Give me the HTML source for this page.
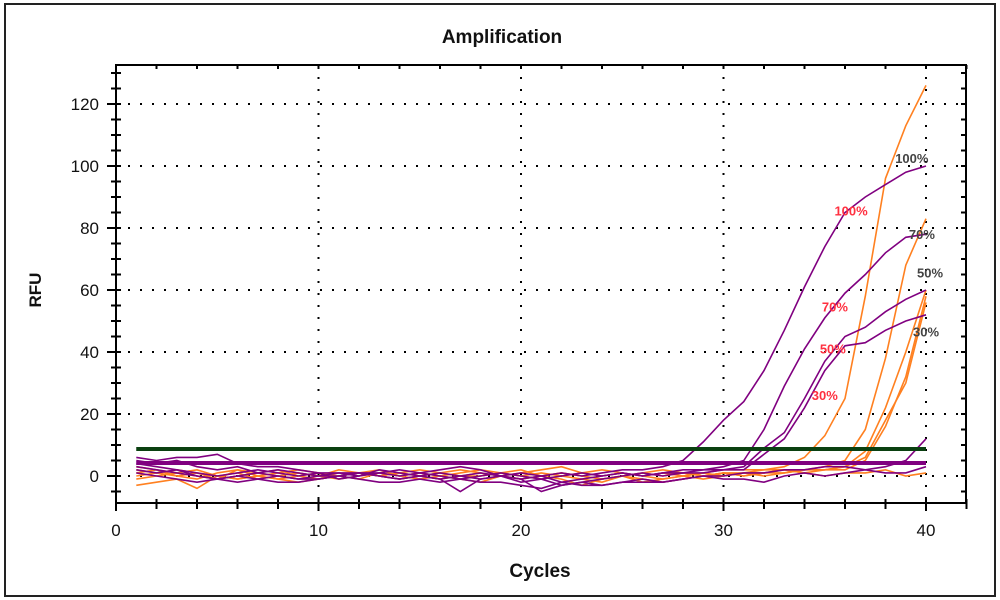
<!DOCTYPE html>
<html><head><meta charset="utf-8"><style>
html,body{margin:0;padding:0;background:#fff;}
svg{display:block;font-family:"Liberation Sans",sans-serif;}
</style></head><body>
<svg id="c" width="1000" height="600">
<rect x="5" y="4" width="990" height="592" fill="#fff" stroke="#222" stroke-width="2"/>
<text x="502" y="43" text-anchor="middle" font-size="19" font-weight="bold" fill="#111">Amplification</text>
<text x="540" y="577" text-anchor="middle" font-size="19" font-weight="bold" fill="#111">Cycles</text>
<text x="41" y="290" text-anchor="middle" font-size="17" font-weight="bold" fill="#111" transform="rotate(-90 41 290)">RFU</text>
<g id="grid"></g><g id="series"></g><g id="axes"></g><g id="labels"></g>
</svg>
<script>
const xTicks=[0,10,20,30,40];
const yTicks=[0,20,40,60,80,100,120];
const cycles=[1,2,3,4,5,6,7,8,9,10,11,12,13,14,15,16,17,18,19,20,21,22,23,24,25,26,27,28,29,30,31,32,33,34,35,36,37,38,39,40];
const purple100=[5,4,5,3,2,3,1,2,1,0,1,0,2,1,0,-1,0,1,0,-1,0,1,0,1,2,2,3,5,11,18,24,34,47,61,74,85,90,94,98,100];
const purple70=[4,3,2,1,0,1,2,1,0,1,-1,0,1,2,1,0,-1,0,1,0,-1,0,1,0,1,0,1,2,2,3,5,15,29,41,51,59,65,72,77,78];
const purple50=[3,2,1,0,-1,0,1,0,-1,0,0,1,0,-1,0,1,0,-1,0,1,0,-2,-1,0,1,0,1,1,2,2,3,9,14,25,37,45,48,53,57,60];
const purple30=[2,1,2,0,-1,-2,-1,0,-1,-1,0,1,0,-1,0,-1,-5,-1,0,-2,-1,-3,-2,-1,0,1,0,1,1,2,2,7,12,22,34,42,43,47,50,52];
const purpleLate=[1,0,-1,-2,-1,0,-1,-2,-2,-1,0,-1,-2,-2,-1,-2,-1,-2,-2,-3,-4,-2,-3,-3,-2,-2,-2,-1,0,0,1,1,2,2,3,3,2,3,5,12];
const purpleFlat=[6,5,6,6,7,4,3,3,2,1,1,1,1,0,1,2,3,2,0,-1,-5,-3,-2,-3,-2,-1,-2,-1,0,-1,-1,-2,0,1,0,1,2,1,1,3];
const orange1=[2,1,0,-1,1,2,1,0,1,0,2,1,0,1,2,1,0,1,0,1,2,3,1,0,1,0,1,0,1,2,2,2,3,6,13,25,58,96,113,126];
const orange2=[0,1,2,1,0,-1,0,1,2,1,0,1,0,-1,0,1,2,1,0,-1,0,1,0,-1,0,1,0,1,0,1,1,2,2,2,3,5,15,38,68,83];
const orange3=[-1,0,1,0,-1,0,1,2,0,-1,0,1,0,1,0,-1,0,0,1,0,-1,0,1,2,1,0,-1,0,1,0,1,1,2,1,2,3,8,22,40,60];
const orange4=[3,2,1,2,0,1,-1,0,1,0,-1,0,1,0,1,0,1,2,1,0,1,0,-1,-2,0,1,2,1,0,1,0,1,1,2,2,2,5,16,32,58];
const orange5=[-3,-2,-1,-4,0,-1,0,-1,-2,-1,0,-1,1,0,-1,0,-1,-2,0,-1,0,-1,-3,-1,0,-2,-1,0,-1,0,1,0,1,2,2,3,6,18,30,56];
const orangeFlat=[1,2,0,1,-1,2,0,-1,0,1,0,1,2,0,1,0,-1,0,1,2,0,1,0,-1,0,-1,-2,-1,0,1,0,1,2,1,0,1,1,2,0,1];
const thresholdGreen=[8.7];
const thresholdPurple=[4.2];
const purpleSeries=[purple100,purple70,purple50,purple30,purpleLate,purpleFlat];
const orangeSeries=[orange1,orange2,orange3,orange4,orange5,orangeFlat];
const grayLabels=["100%","70%","50%","30%"];
const grayLabelAt=[[39.3,101],[39.8,76.5],[40.2,64],[40,45]];
const redLabels=["100%","70%","50%","30%"];
const redLabelAt=[[36.3,84],[35.5,53],[35.4,39.5],[35,24.5]];

const L=116,R=966,T=65,B=503;
const X=v=>L+v*20.25;
const Y=v=>476-v*3.1;
const NS="http://www.w3.org/2000/svg";
function mk(tag,attrs,parent){const e=document.createElementNS(NS,tag);for(const k in attrs)e.setAttribute(k,attrs[k]);parent.appendChild(e);return e;}
const grid=document.getElementById('grid'),axes=document.getElementById('axes'),series=document.getElementById('series'),labels=document.getElementById('labels');

xTicks.forEach(t=>{
  if(t>0){const g=mk('line',{x1:X(t),x2:X(t),y1:T,y2:B,stroke:'#000','stroke-width':2,'stroke-dasharray':'2 10'},grid);
  
  }
  const tx=mk('text',{x:X(t),y:B+33,'text-anchor':'middle','font-size':17,fill:'#111'},axes);tx.textContent=t;
  
  
});
for(let c=0;c<=42;c+=2){
  const big=c%10===0;
  mk('line',{x1:X(c),x2:X(c),y1:B-4,y2:B+(big?8:6),stroke:'#000','stroke-width':2},axes);
  mk('line',{x1:X(c),x2:X(c),y1:T,y2:T+4,stroke:'#000','stroke-width':2},axes);
}
yTicks.forEach(t=>{
  const g=mk('line',{x1:L,x2:R,y1:Y(t),y2:Y(t),stroke:'#000','stroke-width':2,'stroke-dasharray':'2 10'},grid);
  
  
  const tx=mk('text',{x:L-17,y:Y(t)+6,'text-anchor':'end','font-size':17,fill:'#111'},axes);tx.textContent=t;
  
  
});
for(let v=-5;v<=130;v+=5){
  const big=v%20===0;
  mk('line',{x1:L-(big?9:5),x2:L+5,y1:Y(v),y2:Y(v),stroke:'#000','stroke-width':2},axes);
  mk('line',{x1:R-5,x2:R,y1:Y(v),y2:Y(v),stroke:'#000','stroke-width':2},axes);
}
const box=mk('rect',{x:L,y:T,width:R-L,height:B-T,fill:'none',stroke:'#000','stroke-width':2},axes);



function drawSeries(arr,color,name){
  const d=arr.map((v,i)=>(i?'L':'M')+X(cycles[i]).toFixed(1)+' '+Y(v).toFixed(1)).join(' ');
  const p=mk('path',{d:d,fill:'none',stroke:color,'stroke-width':1.6},series);
  
  
}
orangeSeries.forEach((s,i)=>drawSeries(s,'#ff8020','orange-curve-'+(i+1)));
purpleSeries.forEach((s,i)=>drawSeries(s,'#800080','purple-curve-'+(i+1)));
const tg=mk('line',{x1:X(1),x2:X(40),y1:Y(thresholdGreen[0]),y2:Y(thresholdGreen[0]),stroke:'#0a4010','stroke-width':4},series);


const tp=mk('line',{x1:X(1),x2:X(40),y1:Y(thresholdPurple[0]),y2:Y(thresholdPurple[0]),stroke:'#800080','stroke-width':4},series);



grayLabels.forEach((s,i)=>{
  const t=mk('text',{x:X(grayLabelAt[i][0]),y:Y(grayLabelAt[i][1]),'text-anchor':'middle','font-size':13,'font-weight':'bold',fill:'#444'},labels);t.textContent=s;
  
  
});
redLabels.forEach((s,i)=>{
  const t=mk('text',{x:X(redLabelAt[i][0]),y:Y(redLabelAt[i][1]),'text-anchor':'middle','font-size':13,'font-weight':'bold',fill:'#ff3040'},labels);t.textContent=s;
  
  
});
</script>
</body></html>
